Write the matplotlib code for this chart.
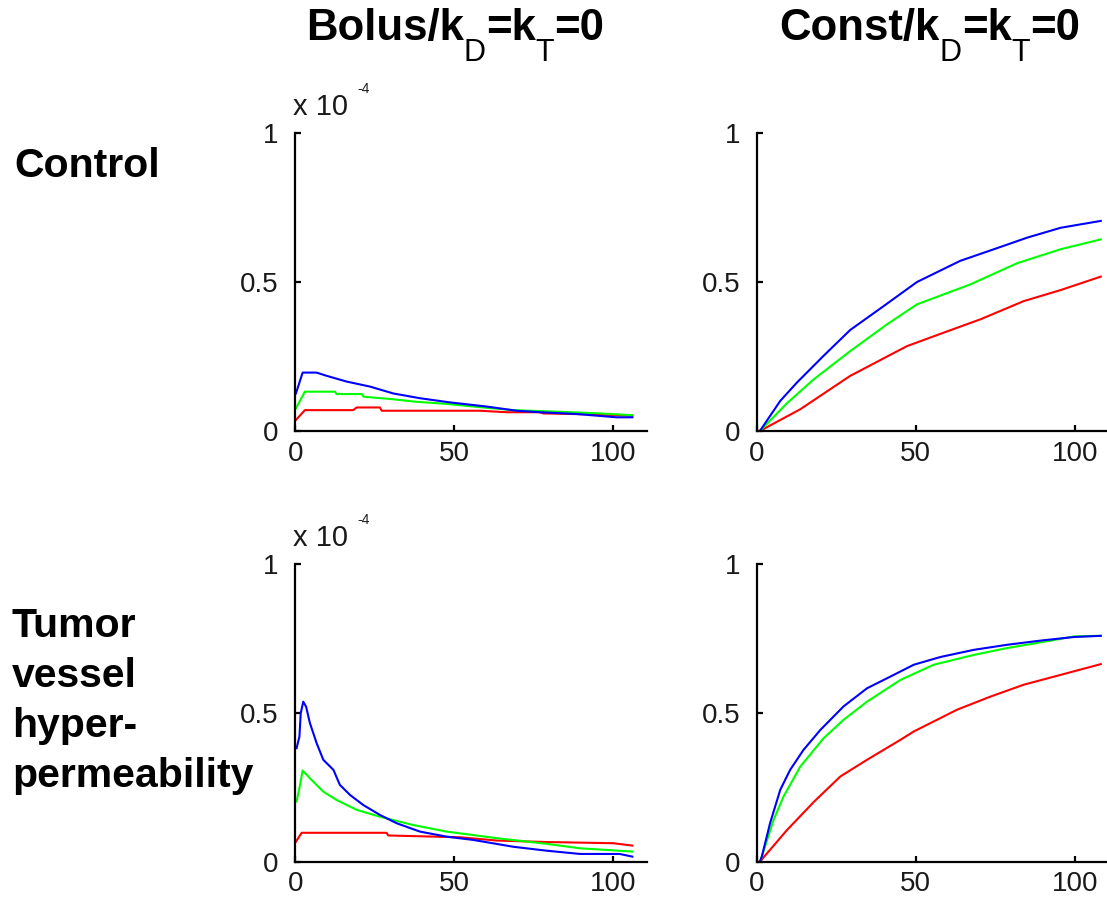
import matplotlib
matplotlib.use("Agg")
import matplotlib.pyplot as plt

plt.rcParams['font.family'] = ['Liberation Sans', 'DejaVu Sans']

# ---------------- data ----------------
col_title_pieces = [
    [("Bolus/k", "main"), ("D", "sub"), ("=k", "main"), ("T", "sub"), ("=0", "main")],
    [("Const/k", "main"), ("D", "sub"), ("=k", "main"), ("T", "sub"), ("=0", "main")],
]
row_labels = [["Control"], ["Tumor", "vessel", "hyper-", "permeability"]]
x_ticks = [0, 50, 100]
y_ticks = [0, 0.5, 1]
y_ticklabels = ["0", "0.5", "1"]
scale_base = "x 10"
scale_exp = "-4"

# Control, bolus
cb_blue_x = [0.2, 2.3, 6.7, 9.9, 16.1, 23.5, 30.8, 39.2, 48.6, 60.2, 69.6, 76.9, 88.5, 101, 106]
cb_blue_y = [0.126, 0.196, 0.196, 0.185, 0.166, 0.149, 0.126, 0.110, 0.096, 0.082, 0.068, 0.063, 0.057, 0.046, 0.046]
cb_green_x = [0.2, 3, 12.5, 13, 20.9, 21.5, 30.3, 38, 47.6, 59, 68.6, 82, 95.8, 106]
cb_green_y = [0.076, 0.132, 0.132, 0.124, 0.124, 0.115, 0.107, 0.098, 0.091, 0.079, 0.070, 0.065, 0.059, 0.053]
cb_red_x = [0.2, 3, 18.2, 19.3, 26.6, 27.2, 58, 66.5, 77, 78, 92, 106]
cb_red_y = [0.037, 0.070, 0.070, 0.079, 0.079, 0.068, 0.068, 0.063, 0.063, 0.059, 0.056, 0.052]

# Control, constant
cc_blue_x = [1, 7.4, 12.6, 21, 29.4, 39.9, 50.4, 64, 74.6, 85.1, 95.6, 108.2]
cc_blue_y = [0.0, 0.101, 0.162, 0.252, 0.339, 0.419, 0.500, 0.571, 0.610, 0.649, 0.682, 0.705]
cc_green_x = [1, 9.5, 17.9, 29.4, 41, 50.4, 67.2, 81.9, 95.6, 108.2]
cc_green_y = [0.0, 0.093, 0.173, 0.268, 0.358, 0.425, 0.492, 0.563, 0.610, 0.643]
cc_red_x = [1, 13.7, 29.4, 47.3, 58.8, 70.4, 84, 95.6, 108.2]
cc_red_y = [0.0, 0.073, 0.185, 0.285, 0.330, 0.375, 0.436, 0.473, 0.518]

# Tumor, bolus
tb_blue_x = [0.4, 1.3, 1.7, 2.5, 3.4, 4.6, 6.7, 8.8, 12, 14, 17.2, 21.4, 26.6, 31.9, 39.2, 47.6, 56, 68.6, 79, 89.5, 102, 106]
tb_blue_y = [0.381, 0.42, 0.498, 0.537, 0.52, 0.465, 0.398, 0.342, 0.308, 0.258, 0.224, 0.190, 0.157, 0.129, 0.101, 0.084, 0.073, 0.050, 0.037, 0.026, 0.026, 0.017]
tb_green_x = [0.4, 1.5, 2.3, 4.6, 8.8, 13, 19.3, 26.6, 37.1, 47.6, 63.3, 79, 89.5, 106]
tb_green_y = [0.202, 0.258, 0.306, 0.280, 0.235, 0.207, 0.174, 0.151, 0.123, 0.101, 0.079, 0.060, 0.045, 0.034]
tb_red_x = [0.2, 2, 28.7, 29.2, 51.8, 63.3, 79, 100, 106]
tb_red_y = [0.067, 0.097, 0.097, 0.088, 0.082, 0.071, 0.066, 0.062, 0.054]

# Tumor, constant
tc_blue_x = [1, 1.6, 4.2, 7.4, 10.5, 14.7, 20, 27.3, 34.7, 42, 49.4, 57.8, 68.3, 78.8, 89.3, 99.8, 108.2]
tc_blue_y = [0.0, 0.017, 0.129, 0.241, 0.308, 0.375, 0.442, 0.521, 0.582, 0.621, 0.661, 0.687, 0.711, 0.728, 0.742, 0.754, 0.758]
tc_green_x = [1, 1.6, 5.3, 8.4, 13.7, 21, 27.3, 34.7, 45.2, 55.7, 68.3, 78.8, 88.2, 99.8, 108.2]
tc_green_y = [0.0, 0.017, 0.140, 0.218, 0.319, 0.414, 0.476, 0.537, 0.610, 0.661, 0.694, 0.717, 0.734, 0.756, 0.758]
tc_red_x = [1, 9.5, 17.9, 26.3, 34.7, 45.2, 49.4, 63, 73.5, 84, 95.6, 108.2]
tc_red_y = [0.0, 0.106, 0.200, 0.286, 0.342, 0.409, 0.437, 0.510, 0.554, 0.594, 0.627, 0.663]

panels = [
    [(cb_blue_x, cb_blue_y), (cb_green_x, cb_green_y), (cb_red_x, cb_red_y)],
    [(cc_blue_x, cc_blue_y), (cc_green_x, cc_green_y), (cc_red_x, cc_red_y)],
    [(tb_blue_x, tb_blue_y), (tb_green_x, tb_green_y), (tb_red_x, tb_red_y)],
    [(tc_blue_x, tc_blue_y), (tc_green_x, tc_green_y), (tc_red_x, tc_red_y)],
]
colors = ['#0000ff', '#00ff00', '#ff0000']

# ---------------- figure ----------------
W, H = 1107, 902
fig = plt.figure(figsize=(W / 100, H / 100), dpi=100)
renderer = fig.canvas.get_renderer()

def fx(px):
    return px / W

def fy(py):
    return 1 - py / H

col_left = [295.3, 756.7]
col_width = 351.4
row_bottom = [431.0, 861.7]
row_height = 298.0

for r in range(2):
    for c in range(2):
        ax = fig.add_axes([fx(col_left[c]), fy(row_bottom[r]), col_width / W, row_height / H])
        series = panels[r * 2 + c]
        for i in [2, 1, 0]:
            xs, ys = series[i]
            ax.plot(xs, ys, color=colors[i], lw=1.5)
        ax.set_xlim(0, 110.5)
        ax.set_ylim(0, 1)
        ax.set_xticks(x_ticks)
        ax.set_yticks(y_ticks)
        ax.set_yticklabels(y_ticklabels)
        for s in ['top', 'right']:
            ax.spines[s].set_visible(False)
        for s in ['left', 'bottom']:
            ax.spines[s].set_linewidth(1.6)
        ax.tick_params(direction='in', length=4, width=1.6, labelsize=20)
        ax.tick_params(axis='x', pad=7)
        ax.tick_params(axis='y', pad=12)
        for lbl in ax.get_xticklabels() + ax.get_yticklabels():
            lbl.set_color('#1a1a1a')
        if c == 0:
            top_px = row_bottom[r] - row_height
            fig.text(fx(293), fy(top_px - 18), scale_base, fontsize=21, color='#1a1a1a',
                     ha='left', va='baseline')
            fig.text(fx(357), fy(top_px - 40), scale_exp, fontsize=10, color='#1a1a1a',
                     ha='left', va='baseline')

# column titles built from pieces (bold main text, regular lowered subscripts)
def rich_title(pieces, x_center, baseline_px):
    styles = {"main": dict(fontsize=31.5, fontweight='bold', dy=0),
              "sub": dict(fontsize=22, fontweight='normal', dy=21)}
    widths = []
    for txt, kind in pieces:
        st = styles[kind]
        t = fig.text(0, 0, txt, fontsize=st['fontsize'], fontweight=st['fontweight'])
        bb = t.get_window_extent(renderer=renderer)
        widths.append(bb.width)
        t.remove()
    total = sum(widths)
    x = x_center - total / 2
    for (txt, kind), w in zip(pieces, widths):
        st = styles[kind]
        fig.text(fx(x), fy(baseline_px + st['dy']), txt, fontsize=st['fontsize'],
                 fontweight=st['fontweight'], ha='left', va='baseline')
        x += w

rich_title(col_title_pieces[0], 455, 40)
rich_title(col_title_pieces[1], 930, 40)

# row labels
fig.text(fx(14), fy(177), row_labels[0][0], fontsize=29.5, fontweight='bold', ha='left', va='baseline')
for k, line in enumerate(row_labels[1]):
    fig.text(fx(12), fy(637 + 50 * k), line, fontsize=29.5, fontweight='bold', ha='left', va='baseline')

fig.savefig('out.png', dpi=100)
